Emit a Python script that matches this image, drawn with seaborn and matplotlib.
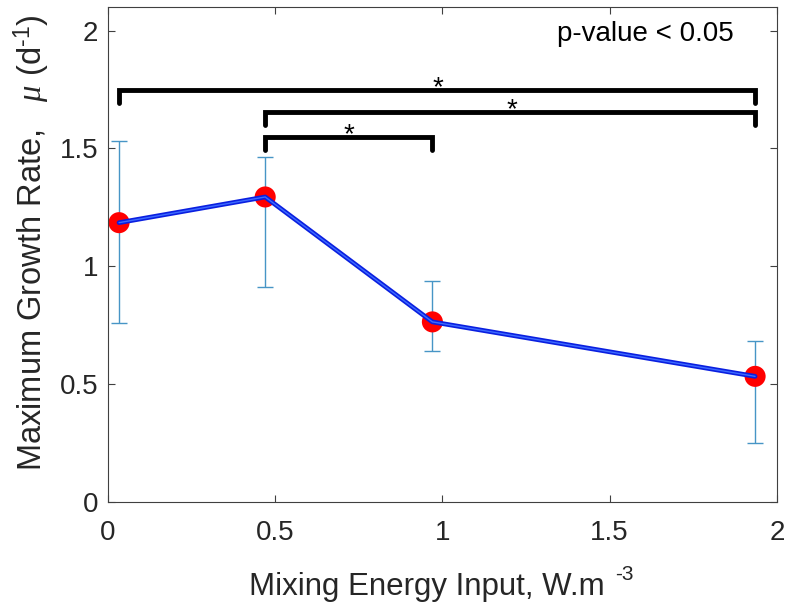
import numpy as np
import pandas as pd
import seaborn as sns
import matplotlib.pyplot as plt

# data
energy = [0.033, 0.47, 0.97, 1.935]
growth = [1.185, 1.294, 0.764, 0.533]
err_low = [0.758, 0.912, 0.641, 0.25]
err_high = [1.531, 1.463, 0.938, 0.681]

# significance brackets: (x start, x end, bar height)
brackets = [(0.033, 1.935, 1.746), (0.47, 1.935, 1.653), (0.47, 0.97, 1.547)]
star_x = [0.987, 1.208, 0.72]

sns.set_style("ticks")
plt.rcParams['font.family'] = ['Liberation Sans', 'DejaVu Sans']
plt.rcParams['mathtext.fontset'] = 'custom'
plt.rcParams['mathtext.rm'] = 'Liberation Sans'
plt.rcParams['mathtext.it'] = 'Liberation Serif:italic'

df = pd.DataFrame({'energy': energy, 'growth': growth})

fig = plt.figure(figsize=(7.85, 6.07), dpi=100)
ax = fig.add_axes([0.1376, 0.173, 0.852, 0.8155])

yerr = np.array([np.array(growth) - np.array(err_low),
                 np.array(err_high) - np.array(growth)])
ax.errorbar(energy, growth, yerr=yerr, fmt='none', ecolor='#4795c6',
            elinewidth=1.0, capsize=6, capthick=1.0, zorder=1)

sns.lineplot(data=df, x='energy', y='growth', color='#0a1fe0', lw=3.4,
             ax=ax, zorder=3)
sns.lineplot(data=df, x='energy', y='growth', color='#3d6bff', lw=1.0,
             ax=ax, zorder=4)
sns.scatterplot(data=df, x='energy', y='growth', color='#ff0000', s=230,
                edgecolor='none', ax=ax, zorder=2)

for (x0, x1, h), sx in zip(brackets, star_x):
    ax.plot([x0, x0, x1, x1], [h - 0.053, h, h, h - 0.053], color='black',
            lw=3.5, solid_joinstyle='miter', zorder=5)
    ax.text(sx, h - 0.02, '*', ha='center', va='baseline', fontsize=20,
            color='black')

ax.text(1.608, 1.987, 'p-value < 0.05', ha='center', va='center', fontsize=20,
        color='black')

ax.set_xlim(0, 2)
ax.set_ylim(0, 2.1)
ax.set_xticks([0, 0.5, 1, 1.5, 2])
ax.set_xticklabels(['0', '0.5', '1', '1.5', '2'])
ax.set_yticks([0, 0.5, 1, 1.5, 2])
ax.set_yticklabels(['0', '0.5', '1', '1.5', '2'])

ax.tick_params(direction='in', length=5, width=0.8, colors='#404040',
               labelsize=20, labelcolor='#262626', top=True, right=True)
ax.tick_params(axis='x', pad=13)
ax.tick_params(axis='y', pad=7)
for sp in ax.spines.values():
    sp.set_visible(True)
    sp.set_color('#404040')
    sp.set_linewidth(0.8)

# x label with a MATLAB-style superscript placed as its own text
ax.set_xlabel('Mixing Energy Input, W.m', fontsize=22.5, color='#262626')
ax.xaxis.label.set_va('baseline')
ax.xaxis.set_label_coords(0.476, -0.188)
ax.text(0.758, -0.158, '-3', transform=ax.transAxes, fontsize=15,
        color='#262626', ha='left', va='baseline', clip_on=False)

ax.set_ylabel('Maximum Growth Rate,   $\\mu$ (d$^{\u20101}$)', fontsize=23.5,
              color='#262626')
ax.yaxis.label.set_va('baseline')
ax.yaxis.set_label_coords(-0.0987, 0.524)

fig.savefig('out.png', dpi=100)
